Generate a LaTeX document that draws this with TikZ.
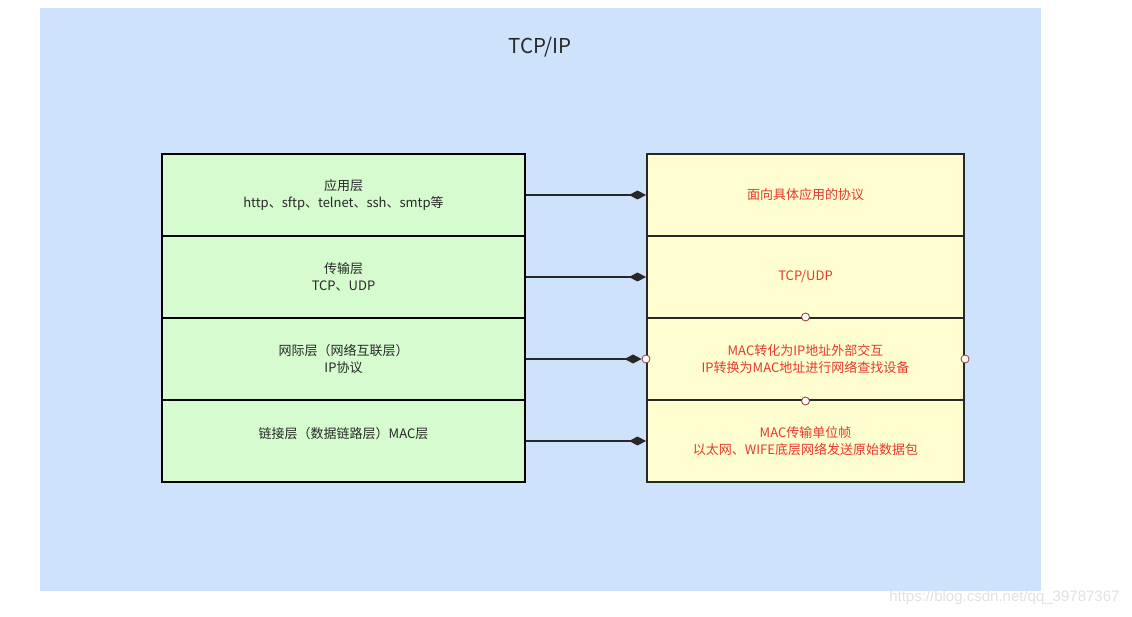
\documentclass[tikz,border=0pt]{standalone}
\usepackage{fontspec}
\setmainfont{Noto Sans CJK SC}
\newfontfamily\wmfont{Liberation Sans}
\usetikzlibrary{arrows.meta}
\definecolor{bgblue}{RGB}{207,226,251}
\definecolor{lgreen}{RGB}{213,251,206}
\definecolor{lyellow}{RGB}{255,254,208}
\definecolor{txtdark}{RGB}{40,40,40}
\definecolor{txtred}{RGB}{232,56,44}
\definecolor{linedark}{RGB}{40,40,40}
\definecolor{dotred}{RGB}{140,60,60}
\definecolor{wmgray}{RGB}{225,225,225}
\tikzset{
  leftbox/.style={draw=black, line width=2pt, fill=lgreen, minimum width=363pt, minimum height=82pt, inner sep=0pt, align=center, text=txtdark, font=\fontsize{13}{17}\selectfont},
  rightbox/.style={draw=linedark, line width=2pt, fill=lyellow, minimum width=317pt, minimum height=82pt, inner sep=0pt, align=center, text=txtred, font=\fontsize{13}{17}\selectfont},
  conn/.style={draw=linedark, line width=2pt, -{Diamond[length=17pt,width=9pt]}},
  portdot/.style={circle, draw=dotred, line width=0.8pt, fill=white, inner sep=0pt, minimum size=8pt},
}
\begin{document}
\begin{tikzpicture}[x=1pt,y=-1pt]
\useasboundingbox (0,0) rectangle (1132,617);
\fill[white] (0,0) rectangle (1132,617);
\fill[bgblue] (40,8) rectangle (1041,591);
\node[text=txtdark, font=\fontsize{20.5}{24}\selectfont] (title) at (540,47) {TCP/IP};

\node[leftbox] (l1) at (343.5,195) {应用层\\http、sftp、telnet、ssh、smtp等};
\node[leftbox] (l2) at (343.5,277) {传输层\\TCP、UDP};
\node[leftbox] (l3) at (343.5,359) {网际层（网络互联层）\\IP协议};
\node[leftbox] (l4) at (343.5,441) {链接层（数据链路层）MAC层\\\mbox{}};

\node[rightbox] (r1) at (805.5,195) {面向具体应用的协议};
\node[rightbox] (r2) at (805.5,277) {TCP/UDP};
\node[rightbox] (r3) at (805.5,359) {MAC转化为IP地址外部交互\\IP转换为MAC地址进行网络查找设备};
\node[rightbox] (r4) at (805.5,441) {MAC传输单位帧\\以太网、WIFE底层网络发送原始数据包};

\node[portdot] (d1) at (r3.north) {};
\node[portdot] (d2) at (r3.south) {};
\node[portdot] (d3) at (r3.west) {};
\node[portdot] (d4) at (r3.east) {};

\draw[conn] (l1.east) -- (r1.west);
\draw[conn] (l2.east) -- (r2.west);
\draw[conn] (l3.east) -- (d3.west);
\draw[conn] (l4.east) -- (r4.west);

\node[text=wmgray, font=\wmfont\fontsize{15}{17}\selectfont, anchor=east] (wm) at (1123,598) {https://blog.csdn.net/qq\_39787367};
\end{tikzpicture}
\end{document}
